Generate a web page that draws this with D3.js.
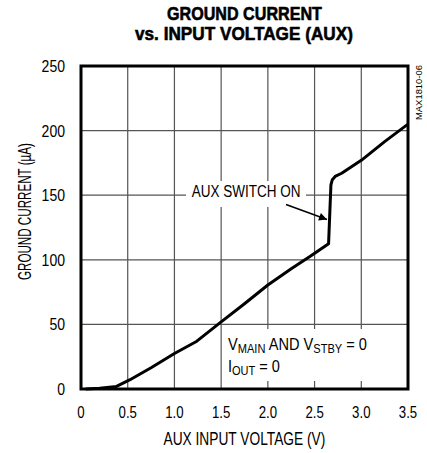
<!DOCTYPE html>
<html>
<head>
<meta charset="utf-8">
<script src="https://cdn.jsdelivr.net/npm/d3@7"></script>
<style>
  body { margin: 0; background: #fff; }
  text { font-family: "Liberation Sans", Arial, sans-serif; fill: #000; }
</style>
</head>
<body>
<div id="chart"></div>
<script>
const voltage = [0.05, 0.2, 0.38, 0.52, 0.75, 1.0, 1.24, 1.5, 1.75, 2.0, 2.25, 2.45, 2.65, 2.665, 2.675, 2.69, 2.72, 2.79, 3.0, 3.25, 3.5];
const current = [0, 0.5, 2, 7, 16.5, 27.5, 37, 52, 66, 80.5, 93, 102.5, 112.5, 140, 158, 162, 164.5, 167, 177, 191.5, 205];
const xTicks = [0, 0.5, 1.0, 1.5, 2.0, 2.5, 3.0, 3.5];
const yTicks = [0, 50, 100, 150, 200, 250];

const width = 427, height = 453;
const margin = { top: 66, right: 19, bottom: 64, left: 81 };

const svg = d3.select("#chart").append("svg")
    .attr("width", width)
    .attr("height", height);

const x = d3.scaleLinear().domain([0, 3.5]).range([margin.left, width - margin.right]);
const y = d3.scaleLinear().domain([0, 250]).range([height - margin.bottom, margin.top]);

// squeeze a text horizontally so it spans w px (narrow font look)
function fit(t, cx, cy, w, anchor, rot) {
    const natural = t.node().getComputedTextLength();
    const sx = w / natural;
    const off = anchor === "middle" ? -w / 2 : anchor === "end" ? -w : 0;
    t.attr("transform", `translate(${cx},${cy})` + (rot ? ` rotate(${rot})` : "") +
        ` translate(${off},0) scale(${sx},1)`);
    return t;
}

// title
fit(svg.append("text").attr("font-size", 19).attr("font-weight", "bold")
        .attr("stroke", "#000").attr("stroke-width", 0.6).text("GROUND CURRENT"),
    244.5, 19.5, 155, "middle");
fit(svg.append("text").attr("font-size", 19).attr("font-weight", "bold")
        .attr("stroke", "#000").attr("stroke-width", 0.6).text("vs. INPUT VOLTAGE (AUX)"),
    244, 39.5, 218, "middle");

// grid
const grid = svg.append("g").attr("stroke", "#555").attr("stroke-width", 1.2);
grid.selectAll(".vx").data(xTicks.slice(1, -1)).join("line")
    .attr("x1", d => x(d)).attr("x2", d => x(d))
    .attr("y1", y(0)).attr("y2", y(250));
grid.selectAll(".hy").data(yTicks.slice(1, -1)).join("line")
    .attr("x1", x(0)).attr("x2", x(3.5))
    .attr("y1", d => y(d)).attr("y2", d => y(d));

// white backgrounds behind annotations
svg.append("rect").attr("x", 186).attr("y", 181).attr("width", 120).attr("height", 26).attr("fill", "#fff");
svg.append("rect").attr("x", 224).attr("y", 329).attr("width", 148).attr("height", 52).attr("fill", "#fff");

// tick labels
svg.append("g").selectAll("text").data(xTicks).join("text")
    .attr("text-anchor", "middle").attr("font-size", 16.5)
    .attr("transform", d => `translate(${x(d)},418) scale(0.8,1)`)
    .text(d => d === 0 ? "0" : d.toFixed(1));
svg.append("g").selectAll("text").data(yTicks).join("text")
    .attr("text-anchor", "end").attr("font-size", 16.5)
    .attr("transform", d => `translate(65,${y(d) + 6}) scale(0.85,1)`)
    .text(d => d);

// axis titles
fit(svg.append("text").attr("font-size", 17.5).text("AUX INPUT VOLTAGE (V)"),
    244.5, 445, 162, "middle");
fit(svg.append("text").attr("font-size", 17.5).text("GROUND CURRENT (µA)"),
    31, 211.5, 137, "middle", -90);
fit(svg.append("text").attr("font-size", 9).attr("fill", "#222").text("MAX1810-06"),
    422, 92.5, 55, "middle", -90);

// curve
const line = d3.line().x(d => x(d[0])).y(d => y(d[1]));
svg.append("path")
    .datum(d3.zip(voltage, current))
    .attr("fill", "none").attr("stroke", "#000").attr("stroke-width", 3)
    .attr("stroke-linejoin", "round")
    .attr("d", line);

// plot frame
svg.append("rect")
    .attr("x", x(0)).attr("y", y(250))
    .attr("width", x(3.5) - x(0)).attr("height", y(0) - y(250))
    .attr("fill", "none").attr("stroke", "#000").attr("stroke-width", 3);

// AUX SWITCH ON annotation
fit(svg.append("text").attr("font-size", 16.5).text("AUX SWITCH ON"),
    191.7, 196.7, 109, "start");
svg.append("defs").append("marker")
    .attr("id", "arrow").attr("viewBox", "0 0 10 10")
    .attr("refX", 10).attr("refY", 5)
    .attr("markerWidth", 12).attr("markerHeight", 8)
    .attr("markerUnits", "userSpaceOnUse")
    .attr("orient", "auto")
    .append("path").attr("d", "M0,0L10,5L0,10Z").attr("fill", "#000");
svg.append("line")
    .attr("x1", 286).attr("y1", 204.5)
    .attr("x2", 327).attr("y2", 219.5)
    .attr("stroke", "#000").attr("stroke-width", 1.5)
    .attr("marker-end", "url(#arrow)");

// condition annotation
const cond = svg.append("text").attr("font-size", 16.5);
cond.append("tspan").text("V");
cond.append("tspan").attr("font-size", 12.5).attr("dy", 3).text("MAIN");
cond.append("tspan").attr("dy", -3).text(" AND V");
cond.append("tspan").attr("font-size", 12.5).attr("dy", 3).text("STBY");
cond.append("tspan").attr("dy", -3).text(" = 0");
fit(cond, 228, 350, 139, "start");
const iout = svg.append("text").attr("font-size", 16.5);
iout.append("tspan").text("I");
iout.append("tspan").attr("font-size", 12.5).attr("dy", 3).text("OUT");
iout.append("tspan").attr("dy", -3).text(" = 0");
fit(iout, 228, 372, 52, "start");
</script>
</body>
</html>
